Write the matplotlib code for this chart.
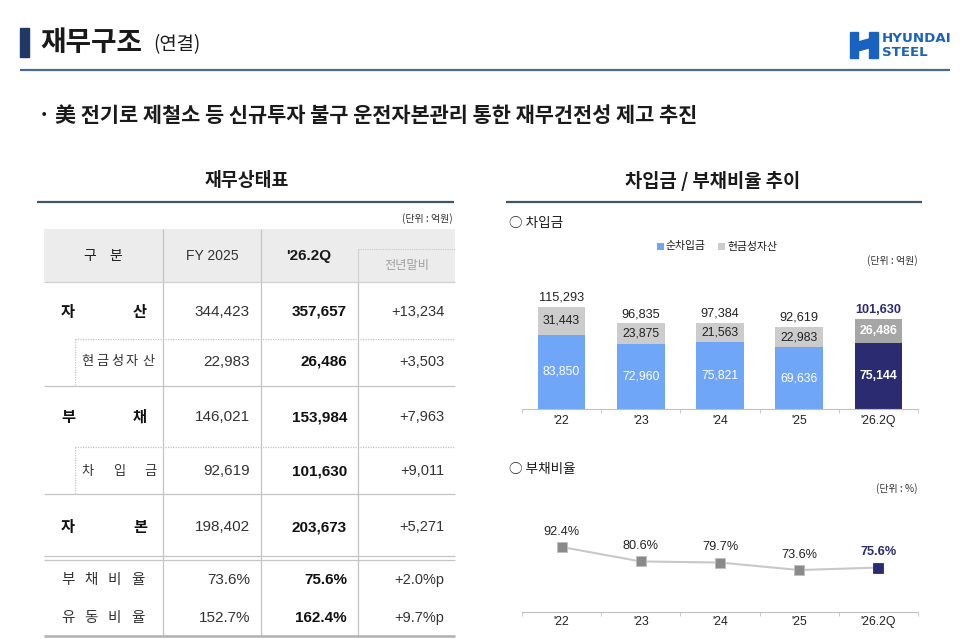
import matplotlib
matplotlib.use("Agg")
import matplotlib.pyplot as plt
from matplotlib.patches import Rectangle, Polygon

# ---------------- data ----------------
years = ["'22", "'23", "'24", "'25", "'26.2Q"]
net_debt = [83850, 72960, 75821, 69636, 75144]
cash_assets = [31443, 23875, 21563, 22983, 26486]
total_debt = [115293, 96835, 97384, 92619, 101630]
debt_ratio = [92.4, 80.6, 79.7, 73.6, 75.6]

row_labels = ["자산", "현금성자산", "부채", "차입금", "자본", "부채비율", "유동비율"]
fy2025 = ["344,423", "22,983", "146,021", "92,619", "198,402", "73.6%", "152.7%"]
q2_2026 = ["357,657", "26,486", "153,984", "101,630", "203,673", "75.6%", "162.4%"]
yoy = ["+13,234", "+3,503", "+7,963", "+9,011", "+5,271", "+2.0%p", "+9.7%p"]
col_headers = ["구 분", "FY 2025", "'26.2Q", "전년말비"]

KR = ["Noto Sans CJK KR", "DejaVu Sans"]
NUM = ["Liberation Sans", "Noto Sans CJK KR"]

W, H = 960, 639
fig = plt.figure(figsize=(W / 100, H / 100), dpi=100)
fig.patch.set_facecolor("white")

ov = fig.add_axes([0, 0, 1, 1])
ov.set_xlim(0, W)
ov.set_ylim(H, 0)
ov.axis("off")


def T(x, y, s, size, weight="normal", color="#1a1a1a", ha="left", va="center", family=KR):
    ov.text(x, y, s, fontsize=size, fontweight=weight, color=color, ha=ha, va=va, family=family)


def hline(y, x0, x1, color="#c4c4c4", lw=0.9, ls="-"):
    ov.plot([x0, x1], [y, y], color=color, lw=lw, ls=ls, solid_capstyle="butt")


def vline(x, y0, y1, color="#c4c4c4", lw=0.9, ls="-"):
    ov.plot([x, x], [y0, y1], color=color, lw=lw, ls=ls, solid_capstyle="butt")


# ---------------- header ----------------
ov.add_patch(Rectangle((20, 28), 9, 29, color="#1f3864"))
T(40, 43, "재무구조", 20, "bold")
T(153, 45, "(연결)", 13.5)
hline(70, 20, 950, color="#4a6990", lw=1.6)

# logo
blue = "#1a62c0"
ov.add_patch(Rectangle((850, 32), 8, 26, color=blue))
ov.add_patch(Rectangle((869, 32), 9, 26, color=blue))
ov.add_patch(Polygon([(858, 42), (869, 39), (869, 48), (858, 51)], closed=True, color=blue))
T(882, 38.5, "HYUNDAI", 9.6, "bold", blue, family=["DejaVu Sans"])
T(882, 52, "STEEL", 9.6, "bold", blue, family=["DejaVu Sans"])

T(38, 115, "· 美 전기로 제철소 등 신규투자 불구 운전자본관리 통한 재무건전성 제고 추진", 15, "bold")

# ---------------- left: table ----------------
T(247, 181, "재무상태표", 13.2, "bold", ha="center")
hline(202, 37, 454, color="#44546a", lw=1.6)
T(453, 219, "(단위 : 억원)", 7.2, ha="right", color="#333333")

# header background
ov.add_patch(Rectangle((44, 229), 411, 53, color="#ececec", lw=0))
hline(249, 358, 455, color="#c8c8c8", lw=0.8, ls=(0, (1, 1)))
vline(358, 249, 282, color="#d0d0d0", lw=0.8)

cx = [103, 212, 309, 407]
T(90, 256, "구", 10, ha="center")
T(116, 256, "분", 10, ha="center")
T(cx[1], 256, col_headers[1], 10, family=NUM, ha="center", color="#333333")
T(cx[2], 256, col_headers[2], 11, "bold", family=NUM, ha="center")
T(cx[3], 266, col_headers[3], 8.8, ha="center", color="#a0a0a0")

# grid lines
for x in (163, 261):
    vline(x, 229, 636)
vline(358, 282, 636)
hline(282, 44, 455, color="#d0d0d0")
hline(339, 75, 455, ls=(0, (1, 1)))
vline(75, 339, 385, ls=(0, (1, 1)))
hline(386, 44, 455)
hline(447, 75, 455, ls=(0, (1, 1)))
vline(75, 447, 494, ls=(0, (1, 1)))
hline(494, 44, 455)
hline(556, 44, 455)
hline(560, 44, 455)
hline(636, 44, 455, color="#b0b0b0", lw=1.8)

row_y = [312, 362, 417, 471, 527, 580, 618]
# row labels (justified characters)
label_pos = {
    0: [68, 140], 2: [68, 140], 4: [68, 140],
    1: [87, 102, 117, 132, 148],
    3: [88, 119, 150],
    5: [68, 91, 114, 138], 6: [68, 91, 114, 138],
}
for i, lab in enumerate(row_labels):
    big = i in (0, 2, 4)
    for ch, x in zip(lab, label_pos[i]):
        T(x, row_y[i], ch, 11 if big else (9.5 if i in (1, 3) else 10.5),
          "bold" if big else "normal", ha="center",
          color="#111111" if big else "#333333")
    T(250, row_y[i], fy2025[i], 11, family=NUM, ha="right", color="#333333")
    T(347, row_y[i], q2_2026[i], 11, "bold", family=NUM, ha="right", color="#111111")
    T(444, row_y[i], yoy[i], 10.5, family=NUM, ha="right", color="#333333")

# ---------------- right: titles ----------------
T(713, 181, "차입금 / 부채비율 추이", 13.5, "bold", ha="center")
hline(202, 506, 922, color="#44546a", lw=1.6)
T(509, 223, "○ 차입금", 9.8)

c_blue = "#70a6f7"
c_navy = "#2b2b72"
c_grey = "#cccccc"
c_grey2 = "#a6a6a6"

ov.add_patch(Rectangle((657, 243), 7, 7, color=c_blue, lw=0))
T(666, 246.5, "순차입금", 7.8)
ov.add_patch(Rectangle((718, 243), 7, 7, color=c_grey, lw=0))
T(727, 246.5, "현금성자산", 7.8)
T(918, 261, "(단위 : 억원)", 7.2, ha="right", color="#333333")


def px_axes(x0, y0, x1, y1):
    return fig.add_axes([x0 / W, 1 - y1 / H, (x1 - x0) / W, (y1 - y0) / H])


# ---------------- bar chart ----------------
ax = px_axes(522, 290, 918, 409)
ax.set_xlim(-0.5, len(years) - 0.5)
ax.set_ylim(0, 134500)
xs = list(range(len(years)))
n = len(years)
blue_cols = [c_blue] * (n - 1) + [c_navy]
grey_cols = [c_grey] * (n - 1) + [c_grey2]
ax.bar(xs, net_debt, width=0.6, color=blue_cols, lw=0)
ax.bar(xs, cash_assets, width=0.6, bottom=net_debt, color=grey_cols, lw=0)
for i in xs:
    last = i == n - 1
    ax.text(i, net_debt[i] / 2, f"{net_debt[i]:,}", ha="center", va="center",
            fontsize=8.8, color="white", fontweight="bold" if last else "normal", family=NUM)
    ax.text(i, net_debt[i] + cash_assets[i] / 2, f"{cash_assets[i]:,}", ha="center", va="center",
            fontsize=8.8, color="white" if last else "#222222",
            fontweight="bold" if last else "normal", family=NUM)
    ax.text(i, total_debt[i] + 3500, f"{total_debt[i]:,}", ha="center", va="bottom",
            fontsize=9.2, color=c_navy if last else "#222222",
            fontweight="bold" if last else "normal", family=NUM)
for s in ("top", "left", "right"):
    ax.spines[s].set_visible(False)
ax.spines["bottom"].set_color("#c0c0c0")
ax.set_yticks([])
ax.set_xticks(xs)
ax.set_xticklabels(years, fontsize=8.8, family=NUM, color="#222222")
ax.tick_params(axis="x", length=0, pad=4)
ax.set_xticks([i - 0.5 for i in range(n + 1)], minor=True)
ax.tick_params(axis="x", which="minor", length=3, color="#c0c0c0")
ax.patch.set_alpha(0)

# ---------------- line chart ----------------
T(509, 469, "○ 부채비율", 9.8)
T(918, 489, "(단위 : %)", 7.2, ha="right", color="#333333")

lx = px_axes(522, 500, 918, 612)
lx.set_xlim(-0.5, n - 0.5)
lx.set_ylim(39.3, 130.8)
lx.plot(xs, debt_ratio, color="#c8c8c8", lw=1.5, zorder=1)
mcols = ["#8a8a8a"] * (n - 1) + [c_navy]
for i in xs:
    last = i == n - 1
    lx.plot(xs[i], debt_ratio[i], marker="s", ms=7, color=mcols[i],
            mec="#bdbdbd" if not last else c_navy, mew=0.6, zorder=3)
    lx.text(xs[i], debt_ratio[i] + 7.5, f"{debt_ratio[i]}%", ha="center", va="bottom",
            fontsize=9.2, color=c_navy if last else "#222222",
            fontweight="bold" if last else "normal", family=NUM)
for s in ("top", "left", "right"):
    lx.spines[s].set_visible(False)
lx.spines["bottom"].set_color("#c0c0c0")
lx.set_yticks([])
lx.set_xticks(xs)
lx.set_xticklabels(years, fontsize=8.8, family=NUM, color="#222222")
lx.tick_params(axis="x", length=0, pad=3)
lx.set_xticks([i - 0.5 for i in range(n + 1)], minor=True)
lx.tick_params(axis="x", which="minor", length=3, color="#c0c0c0")
lx.patch.set_alpha(0)

fig.savefig("out.png", dpi=100, facecolor="white")
